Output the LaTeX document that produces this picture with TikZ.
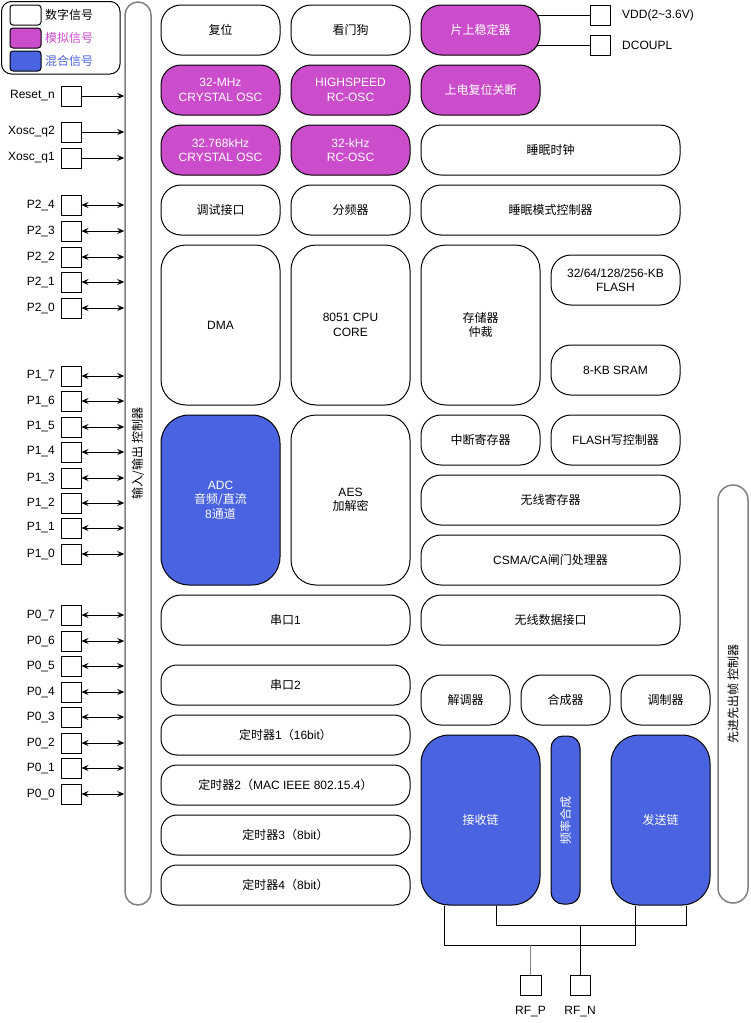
\documentclass[tikz,border=0pt]{standalone}
\usepackage{fontspec}
\setmainfont{Liberation Sans}
\newfontfamily\zhf{Noto Sans CJK SC}
\usetikzlibrary{arrows.meta,calc,backgrounds}
\definecolor{mag}{RGB}{204,77,204}
\definecolor{blu}{RGB}{74,99,224}
\definecolor{barg}{RGB}{128,128,128}
\newcommand\myfs{\fontsize{12}{14.5}\selectfont}
\newcommand\mkblk[8]{\node[#1, rounded corners=#7pt, minimum width={(#5-#3)*1pt}, minimum height={(#6-#4)*1pt}] (#2) at ({(#3+#5)/2},{(#4+#6)/2}) {#8};}
\tikzset{
  base/.style={draw=black, line width=1pt, align=center, inner sep=0pt, font=\myfs},
  wbox/.style={base, fill=white, text=black},
  mbox/.style={base, fill=mag, text=white},
  bbox/.style={base, fill=blu, text=white},
  gbar/.style={draw=barg, line width=1.5pt, fill=white, inner sep=0pt},
  pinbox/.style={draw=black, line width=1pt, fill=white, minimum size=20pt, inner sep=0pt},
  lbl/.style={font=\myfs, inner sep=0pt},
  tip/.tip={Stealth[length=7pt,width=6pt,inset=2.5pt]},
  onearr/.style={draw=black, line width=0.8pt, -tip},
  twoarr/.style={draw=black, line width=0.8pt, tip-tip},
  wire/.style={draw=black, line width=1pt},
  gwire/.style={draw=barg, line width=1.5pt}
}
\begin{document}
\begin{tikzpicture}[x=1pt,y=-1pt]
\useasboundingbox (0,0) rectangle (750,1023);
% legend
\mkblk{wbox}{legend}{1.5}{1.5}{120}{74}{10}{}
\mkblk{wbox}{swd}{10}{5}{41}{25}{3}{}
\mkblk{mbox}{swa}{10}{28}{41}{48}{3}{}
\mkblk{bbox}{swm}{10}{51}{41}{71}{3}{}
\node[lbl, anchor=west] (ltd) at (45,15) {\zhf 数字信号};
\node[lbl, anchor=west, text=mag] (lta) at (45,38) {\zhf 模拟信号};
\node[lbl, anchor=west, text=blu] (ltm) at (45,61) {\zhf 混合信号};
% bars
\mkblk{gbar}{lbar}{125}{2}{151}{905}{13}{}
\node[lbl, rotate=90] (lbart) at (lbar.center) {\zhf 输入/输出 控制器};
\mkblk{gbar}{rbar}{718}{485}{748}{903}{15}{}
\node[lbl, rotate=90] (rbart) at (rbar.center) {\zhf 先进先出帧 控制器};
% blocks
\mkblk{wbox}{rst}{161}{5}{280}{55}{20}{{\zhf 复位}}
\mkblk{wbox}{wdg}{291}{5}{410}{55}{20}{{\zhf 看门狗}}
\mkblk{mbox}{reg}{421}{5}{540}{55}{20}{{\zhf 片上稳定器}}
\mkblk{mbox}{oscm}{161}{65}{280}{115}{20}{32-MHz\\CRYSTAL OSC}
\mkblk{mbox}{hsrc}{291}{65}{410}{115}{20}{HIGHSPEED\\RC-OSC}
\mkblk{mbox}{por}{421}{65}{540}{115}{20}{{\zhf 上电复位关断}}
\mkblk{mbox}{osck}{161}{125}{280}{175}{20}{32.768kHz\\CRYSTAL OSC}
\mkblk{mbox}{rck}{291}{125}{410}{175}{20}{32-kHz\\RC-OSC}
\mkblk{wbox}{slpclk}{421}{125}{680}{175}{20}{{\zhf 睡眠时钟}}
\mkblk{wbox}{dbg}{161}{185}{280}{235}{20}{{\zhf 调试接口}}
\mkblk{wbox}{divi}{291}{185}{410}{235}{20}{{\zhf 分频器}}
\mkblk{wbox}{slpctl}{421}{185}{680}{235}{20}{{\zhf 睡眠模式控制器}}
\mkblk{wbox}{dma}{161}{245}{280}{405}{25}{DMA}
\mkblk{wbox}{cpu}{291}{245}{410}{405}{25}{8051 CPU\\CORE}
\mkblk{wbox}{arb}{421}{245}{540}{405}{25}{{\zhf 存储器}\\{\zhf 仲裁}}
\mkblk{wbox}{flash}{551}{255}{680}{305}{20}{32/64/128/256-KB\\FLASH}
\mkblk{wbox}{sram}{551}{345}{680}{395}{20}{8-KB SRAM}
\mkblk{bbox}{adc}{161}{415}{280}{585}{28}{ADC\\{\zhf 音频/直流}\\8{\zhf 通道}}
\mkblk{wbox}{aes}{291}{415}{410}{585}{25}{AES\\{\zhf 加解密}}
\mkblk{wbox}{irq}{421}{415}{540}{465}{20}{{\zhf 中断寄存器}}
\mkblk{wbox}{fwc}{551}{415}{680}{465}{20}{FLASH{\zhf 写控制器}}
\mkblk{wbox}{rreg}{421}{475}{680}{525}{20}{{\zhf 无线寄存器}}
\mkblk{wbox}{csma}{421}{535}{680}{585}{20}{CSMA/CA{\zhf 闸门处理器}}
\mkblk{wbox}{rdi}{421}{595}{680}{645}{20}{{\zhf 无线数据接口}}
\mkblk{wbox}{uarta}{161}{595}{410}{645}{20}{{\zhf 串口}1}
\mkblk{wbox}{uartb}{161}{665}{410}{705}{16}{{\zhf 串口}2}
\mkblk{wbox}{ta}{161}{715}{410}{755}{16}{{\zhf 定时器}1{\zhf （}16bit{\zhf ）}}
\mkblk{wbox}{tb}{161}{765}{410}{805}{16}{{\zhf 定时器}2{\zhf （}MAC IEEE 802.15.4{\zhf ）}}
\mkblk{wbox}{tc}{161}{815}{410}{855}{16}{{\zhf 定时器}3{\zhf （}8bit{\zhf ）}}
\mkblk{wbox}{td}{161}{865}{410}{905}{16}{{\zhf 定时器}4{\zhf （}8bit{\zhf ）}}
\mkblk{wbox}{demod}{421}{675}{510}{725}{20}{{\zhf 解调器}}
\mkblk{wbox}{synth}{521}{675}{610}{725}{20}{{\zhf 合成器}}
\mkblk{wbox}{modu}{621}{675}{710}{725}{20}{{\zhf 调制器}}
\mkblk{bbox}{rx}{421}{735}{540}{905}{28}{{\zhf 接收链}}
\mkblk{bbox}{fsyn}{551}{736}{580}{904}{12}{}
\node[lbl, rotate=90, text=white] (fsynt) at (fsyn.center) {\zhf 频率合成};
\mkblk{bbox}{tx}{611}{735}{710}{905}{28}{{\zhf 发送链}}
% supply pins
\node[pinbox] (vdd) at (600,15) {};
\node[pinbox] (dcp) at (600,45) {};
\node[lbl, anchor=west] (vddl) at (622,15) {VDD(2\textasciitilde 3.6V)};
\node[lbl, anchor=west] (dcpl) at (622,45) {DCOUPL};
\begin{scope}[on background layer]
\draw[wire] (vdd.west) -- (vdd.west -| reg.center);
\draw[wire] (dcp.west) -- (dcp.west -| reg.center);
\end{scope}
% IO pins
\foreach \id/\lab/\yy/\kind in {
  rs/Reset\_n/96/onearr, xa/Xosc\_q2/132/onearr, xb/Xosc\_q1/158/onearr,
  p24/P2\_4/205/twoarr, p23/P2\_3/231/twoarr, p22/P2\_2/257/twoarr, p21/P2\_1/282/twoarr, p20/P2\_0/308/twoarr,
  p17/P1\_7/376/twoarr, p16/P1\_6/401/twoarr, p15/P1\_5/427/twoarr, p14/P1\_4/452/twoarr,
  p13/P1\_3/478/twoarr, p12/P1\_2/503/twoarr, p11/P1\_1/528/twoarr, p10/P1\_0/554/twoarr,
  p07/P0\_7/615/twoarr, p06/P0\_6/641/twoarr, p05/P0\_5/666/twoarr, p04/P0\_4/692/twoarr,
  p03/P0\_3/717/twoarr, p02/P0\_2/743/twoarr, p01/P0\_1/768/twoarr, p00/P0\_0/794/twoarr}{
  \node[pinbox] (pin\id) at (71,\yy) {};
  \node[lbl, anchor=east] (lab\id) at (55,\yy) {\lab};
  \draw[\kind] (pin\id.east) -- (pin\id.east -| lbar.west);
}
% RF
\node[pinbox, minimum width=21pt] (rfp) at (530.5,985) {};
\node[pinbox] (rfn) at (580,985) {};
\node[lbl] (rfpl) at (530.5,1012) {RF\_P};
\node[lbl] (rfnl) at (580,1012) {RF\_N};
\begin{scope}[on background layer]
\draw[wire] ($(rx.south west)+(24,0)$) -- ++(0,40) -| ($(tx.south west)+(25,0)$);
\draw[wire] ($(rx.south east)+(-44,0)$) -- ++(0,20) -| ($(tx.south east)+(-24,0)$);
\draw[gwire] (rfp.north) -- (rfp.north |- 0,945);
\draw[wire] (rfn.north) -- (rfn.north |- 0,925);
\end{scope}
\end{tikzpicture}
\end{document}
